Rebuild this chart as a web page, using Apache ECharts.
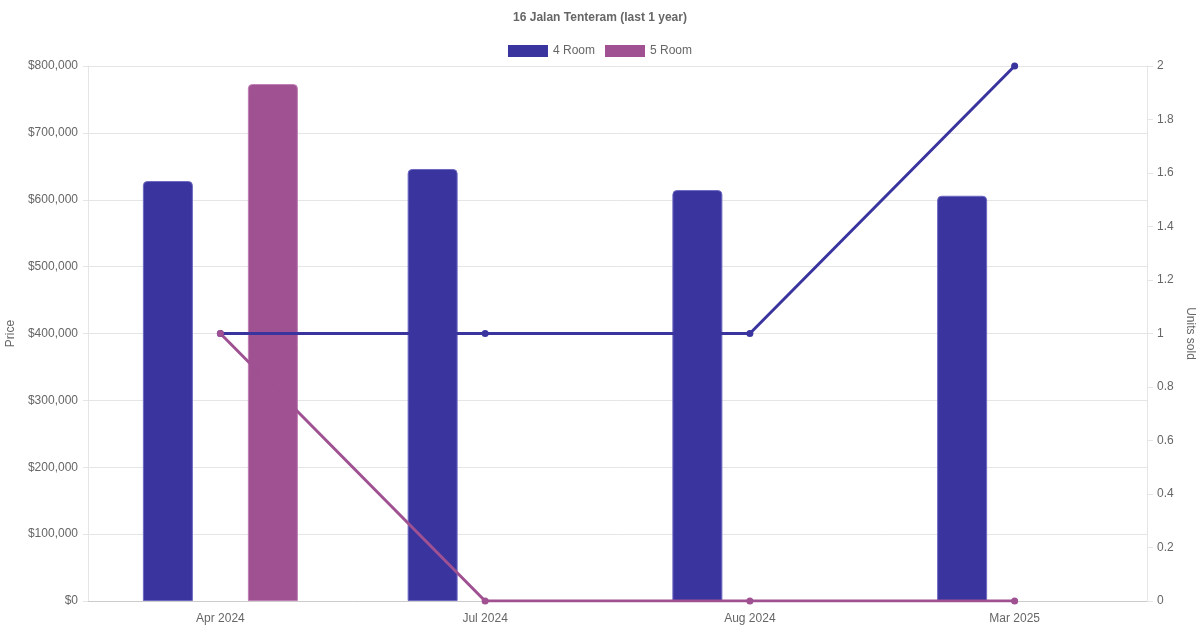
<!DOCTYPE html>
<html>
<head>
<meta charset="utf-8">
<script src="https://cdn.jsdelivr.net/npm/echarts@6/dist/echarts.min.js"></script>
<style>html,body{margin:0;padding:0;background:#fff}#c{width:1200px;height:630px}</style>
</head>
<body>
<div id="c"></div>
<script>
const categories = ['Apr 2024', 'Jul 2024', 'Aug 2024', 'Mar 2025'];
const price4Room = [628000, 646000, 614500, 606000];
const price5Room = [773000, null, null, null];
const units4Room = [1, 1, 1, 2];
const units5Room = [1, 0, 0, 0];
const seriesNames = ['4 Room', '5 Room'];

const C4 = '#3a349f';
const C5 = '#9f5192';
const font = 'Liberation Sans, Arial, Helvetica, sans-serif';

const chart = echarts.init(document.getElementById('c'));
chart.setOption({
  animation: false,
  textStyle: { fontFamily: font },
  title: {
    text: '16 Jalan Tenteram (last 1 year)',
    left: 'center', top: 7,
    textStyle: { fontSize: 12, fontWeight: 'bold', color: '#666', fontFamily: font }
  },
  legend: {
    data: seriesNames.map(n => ({ name: n, icon: 'rect', itemStyle: { borderWidth: 0 } })),
    top: 40, left: 'center',
    itemWidth: 40, itemHeight: 12, itemGap: 10,
    textStyle: { fontSize: 12, color: '#666', fontFamily: font }
  },
  grid: { left: 88, right: 53, top: 66, bottom: 29, containLabel: false, outerBoundsMode: 'none' },
  xAxis: {
    type: 'category',
    data: categories,
    axisLine: { lineStyle: { color: '#ccc' } },
    axisTick: { show: false },
    axisLabel: { color: '#666', fontSize: 12, margin: 12 },
    splitLine: { show: false }
  },
  yAxis: [
    {
      type: 'value', min: 0, max: 800000, interval: 100000,
      name: 'Price', nameLocation: 'middle', nameGap: 70,
      nameTextStyle: { color: '#666', fontSize: 12 },
      axisLine: { show: true, lineStyle: { color: '#e5e5e5' } },
      axisTick: { show: true, length: 5, lineStyle: { color: '#e5e5e5' } },
      axisLabel: { color: '#666', fontSize: 12, margin: 10,
        formatter: v => '$' + v.toLocaleString('en-US') },
      splitLine: { lineStyle: { color: '#e5e5e5' } }
    },
    {
      type: 'value', min: 0, max: 2, interval: 0.2,
      name: 'Units sold', nameLocation: 'middle', nameGap: 37, nameRotate: -90,
      nameTextStyle: { color: '#666', fontSize: 12 },
      axisLine: { show: true, lineStyle: { color: '#e5e5e5' } },
      axisTick: { show: true, length: 6, lineStyle: { color: '#e5e5e5' } },
      axisLabel: { color: '#666', fontSize: 12, margin: 10,
        formatter: v => String(Math.round(v * 10) / 10) },
      splitLine: { show: false }
    }
  ],
  series: [
    {
      name: seriesNames[0], type: 'bar', yAxisIndex: 0, data: price4Room,
      barWidth: 50, barGap: '110%',
      itemStyle: { color: C4, borderRadius: [4, 4, 0, 0], borderColor: '#6e6ac0', borderWidth: 1 }, z: 2
    },
    {
      name: seriesNames[1], type: 'bar', yAxisIndex: 0, data: price5Room,
      barWidth: 50, barGap: '110%',
      itemStyle: { color: C5, borderRadius: [4, 4, 0, 0], borderColor: '#c07fb5', borderWidth: 1 }, z: 2
    },
    {
      name: seriesNames[0], type: 'line', yAxisIndex: 1, data: units4Room,
      symbol: 'circle', symbolSize: 7,
      lineStyle: { color: C4, width: 3 }, itemStyle: { color: C4 }, z: 5
    },
    {
      name: seriesNames[1], type: 'line', yAxisIndex: 1, data: units5Room,
      symbol: 'circle', symbolSize: 7,
      lineStyle: { color: C5, width: 3 }, itemStyle: { color: C5 }, z: 5
    }
  ]
});
</script>
</body>
</html>
